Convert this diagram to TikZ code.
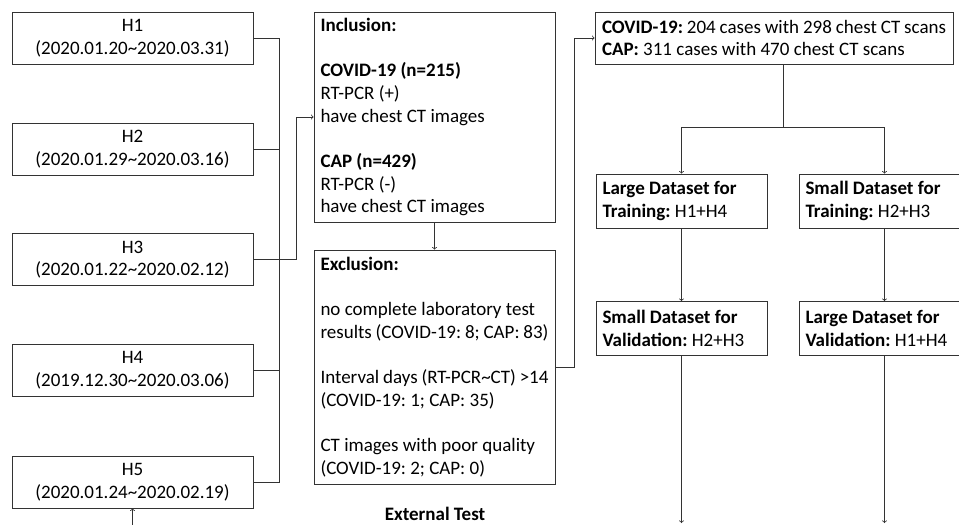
\documentclass[tikz,border=0pt]{standalone}
\usepackage{fontspec}
\setmainfont{Carlito}
\usetikzlibrary{positioning}

\tikzset{
  base/.style={draw=black!80, line width=0.8pt, font=\fontsize{19}{22.7}\selectfont\frenchspacing},
  hbox/.style={base, minimum width=241pt, minimum height=52pt, align=center, inner sep=0pt},
  critbox/.style={base, text width=228pt, inner xsep=6.5pt, align=flush left},
  setbox/.style={base, text width=158pt, inner xsep=6.5pt, minimum height=54pt, align=flush left},
  link/.style={draw=black!80, line width=0.8pt},
}

\begin{document}
\begin{tikzpicture}[x=1pt, y=-1pt]

  \useasboundingbox (0,0) rectangle (959,525);
  \clip (0,0) rectangle (959,525);

  % Hospitals
  \node[hbox] (h1) at (132.5,38)  {H1\\(2020.01.20\textasciitilde2020.03.31)};
  \node[hbox] (h2) at (132.5,149) {H2\\(2020.01.29\textasciitilde2020.03.16)};
  \node[hbox] (h3) at (132.5,259.5) {H3\\(2020.01.22\textasciitilde2020.02.12)};
  \node[hbox] (h4) at (132.5,370.5) {H4\\(2019.12.30\textasciitilde2020.03.06)};
  \node[hbox] (h5) at (132.5,482) {H5\\(2020.01.24\textasciitilde2020.02.19)};

  % Criteria
  \node[critbox, minimum height=210pt] (incl) at (434.5,117) {\textbf{Inclusion:}\\[22.7pt]
    \textbf{COVID-19 (n=215)}\\RT-PCR (+)\\have chest CT images\\[22.7pt]
    \textbf{CAP (n=429)}\\RT-PCR (-)\\have chest CT images};
  \node[critbox, minimum height=234pt] (excl) at (434.5,367) {\textbf{Exclusion:}\\[22.7pt]
    no complete laboratory test\\results (COVID-19: 8; CAP: 83)\\[22.7pt]
    Interval days (RT-PCR\textasciitilde CT) >14\\(COVID-19: 1; CAP: 35)\\[22.7pt]
    CT images with poor quality\\(COVID-19: 2; CAP: 0)};
  \node[font=\fontsize{19}{22.7}\selectfont\bfseries] (ext) at (435,514) {External Test};

  % Datasets
  \node[critbox, text width=344pt, inner xsep=7pt, minimum height=52pt] (total) at (774,38) {\textbf{COVID-19:} 204 cases with 298 chest CT scans\\
    \textbf{CAP:} 311 cases with 470 chest CT scans};
  \node[setbox] (trainL) at (681.5,201) {\textbf{Large Dataset for}\\\textbf{Training:} H1+H4};
  \node[setbox] (trainR) at (884.5,201) {\textbf{Small Dataset for}\\\textbf{Training:} H2+H3};
  \node[setbox] (validS) at (681.5,328.5) {\textbf{Small Dataset for}\\\textbf{Validation:} H2+H3};
  \node[setbox] (validL) at (884.5,328.5) {\textbf{Large Dataset for}\\\textbf{Validation:} H1+H4};

  \coordinate (split) at (783,127);
  \coordinate (inH5) at (132.5,526);
  \coordinate (outS) at (681.5,523);
  \coordinate (outL) at (884.5,523);

  % Hospitals to criteria
  \draw[link] (h1.east) -- ++(26,0) |- (h5.east);
  \draw[link] (h2.east) -- ++(26,0);
  \draw[link] (h4.east) -- ++(26,0);
  \draw[link, ->] (h3.east) -- ++(43,0) |- (incl.west);
  \draw[link, ->] (incl.south) -- (excl.north);
  \draw[link, ->] (excl.east) -- ++(19,0) |- (total.west);
  \draw[link, ->] (inH5) -- (h5.south);

  % Split into datasets
  \draw[link] (total.south -| split) -- (split);
  \draw[link, ->] (split) -| (trainL.north);
  \draw[link, ->] (split) -| (trainR.north);
  \draw[link, ->] (trainL.south) -- (validS.north);
  \draw[link, ->] (trainR.south) -- (validL.north);
  \draw[link, ->] (validS.south) -- (outS);
  \draw[link, ->] (validL.south) -- (outL);

\end{tikzpicture}
\end{document}
